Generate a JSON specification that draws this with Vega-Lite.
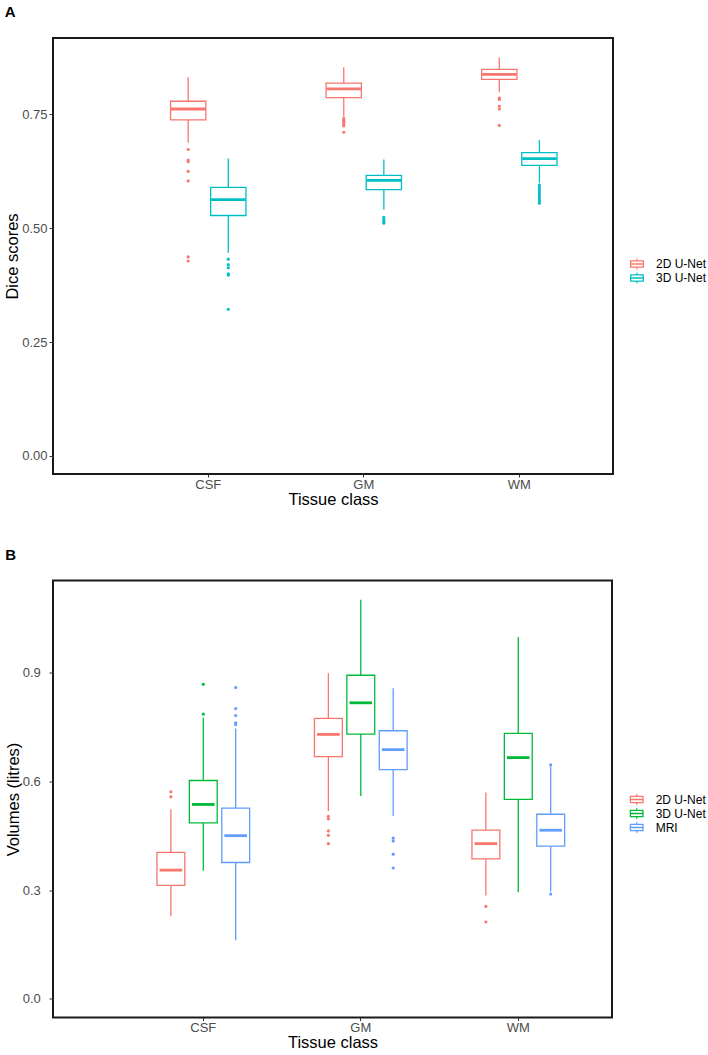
{
  "$schema": "https://vega.github.io/schema/vega-lite/v6.json",
  "padding": {"left": 3, "top": 4, "right": 0, "bottom": 0},
  "spacing": 37.5,
  "resolve": {"scale": {"color": "independent", "x": "independent", "xOffset": "independent", "y": "independent"}, "legend": {"color": "independent"}},
  "config": {
    "font": "Liberation Sans",
    "view": {"stroke": "#1a1a1a", "strokeWidth": 2},
    "axis": {"grid": false, "domain": false, "tickColor": "#333333", "tickSize": 4, "tickWidth": 1, "labelColor": "#4D4D4D", "labelFontSize": 13, "labelPadding": 2, "titleFontSize": 16.5, "titleFontWeight": "normal", "titleColor": "black"},
    "axisX": {"tickSize": 3, "labelPadding": 1, "titlePadding": 0},
    "axisY": {"titlePadding": 1},
    "legend": {"labelFontSize": 12, "labelColor": "black", "padding": 0, "labelOffset": 13, "symbolSize": 36, "symbolStrokeWidth": 1.3, "symbolFillColor": "transparent", "symbolType": "M-2.1,-1.05H2.1V1.05H-2.1ZM-2.1,0H2.1M0,-1.05V-1.75M0,1.05V1.75"},
    "title": {"anchor": "start", "frame": "bounds", "fontSize": 15, "fontWeight": "bold", "color": "black"}
  },
  "datasets": {
    "statsA": [
      {"tissue": "CSF", "model": "2D U-Net", "lo": 0.688, "q1": 0.738, "med": 0.762, "q3": 0.779, "hi": 0.832},
      {"tissue": "CSF", "model": "3D U-Net", "lo": 0.446, "q1": 0.528, "med": 0.563, "q3": 0.590, "hi": 0.653},
      {"tissue": "GM", "model": "2D U-Net", "lo": 0.745, "q1": 0.787, "med": 0.806, "q3": 0.819, "hi": 0.854},
      {"tissue": "GM", "model": "3D U-Net", "lo": 0.541, "q1": 0.585, "med": 0.605, "q3": 0.616, "hi": 0.651},
      {"tissue": "WM", "model": "2D U-Net", "lo": 0.799, "q1": 0.827, "med": 0.838, "q3": 0.849, "hi": 0.875},
      {"tissue": "WM", "model": "3D U-Net", "lo": 0.600, "q1": 0.638, "med": 0.653, "q3": 0.666, "hi": 0.694}
    ],
    "outA": [
      {"tissue": "CSF", "model": "2D U-Net", "value": 0.673},
      {"tissue": "CSF", "model": "2D U-Net", "value": 0.650},
      {"tissue": "CSF", "model": "2D U-Net", "value": 0.646},
      {"tissue": "CSF", "model": "2D U-Net", "value": 0.625},
      {"tissue": "CSF", "model": "2D U-Net", "value": 0.604},
      {"tissue": "CSF", "model": "2D U-Net", "value": 0.437},
      {"tissue": "CSF", "model": "2D U-Net", "value": 0.428},
      {"tissue": "CSF", "model": "3D U-Net", "value": 0.432},
      {"tissue": "CSF", "model": "3D U-Net", "value": 0.420},
      {"tissue": "CSF", "model": "3D U-Net", "value": 0.413},
      {"tissue": "CSF", "model": "3D U-Net", "value": 0.400},
      {"tissue": "CSF", "model": "3D U-Net", "value": 0.397},
      {"tissue": "CSF", "model": "3D U-Net", "value": 0.322},
      {"tissue": "GM", "model": "2D U-Net", "value": 0.741},
      {"tissue": "GM", "model": "2D U-Net", "value": 0.737},
      {"tissue": "GM", "model": "2D U-Net", "value": 0.733},
      {"tissue": "GM", "model": "2D U-Net", "value": 0.729},
      {"tissue": "GM", "model": "2D U-Net", "value": 0.725},
      {"tissue": "GM", "model": "2D U-Net", "value": 0.711},
      {"tissue": "GM", "model": "3D U-Net", "value": 0.524},
      {"tissue": "GM", "model": "3D U-Net", "value": 0.519},
      {"tissue": "GM", "model": "3D U-Net", "value": 0.515},
      {"tissue": "GM", "model": "3D U-Net", "value": 0.511},
      {"tissue": "WM", "model": "2D U-Net", "value": 0.786},
      {"tissue": "WM", "model": "2D U-Net", "value": 0.783},
      {"tissue": "WM", "model": "2D U-Net", "value": 0.768},
      {"tissue": "WM", "model": "2D U-Net", "value": 0.762},
      {"tissue": "WM", "model": "2D U-Net", "value": 0.726},
      {"tissue": "WM", "model": "3D U-Net", "value": 0.595},
      {"tissue": "WM", "model": "3D U-Net", "value": 0.590},
      {"tissue": "WM", "model": "3D U-Net", "value": 0.585},
      {"tissue": "WM", "model": "3D U-Net", "value": 0.580},
      {"tissue": "WM", "model": "3D U-Net", "value": 0.575},
      {"tissue": "WM", "model": "3D U-Net", "value": 0.570},
      {"tissue": "WM", "model": "3D U-Net", "value": 0.565},
      {"tissue": "WM", "model": "3D U-Net", "value": 0.560},
      {"tissue": "WM", "model": "3D U-Net", "value": 0.555}
    ],
    "statsB": [
      {"tissue": "CSF", "model": "2D U-Net", "lo": 0.228, "q1": 0.313, "med": 0.355, "q3": 0.404, "hi": 0.523},
      {"tissue": "CSF", "model": "3D U-Net", "lo": 0.353, "q1": 0.485, "med": 0.536, "q3": 0.602, "hi": 0.775},
      {"tissue": "CSF", "model": "MRI", "lo": 0.162, "q1": 0.376, "med": 0.450, "q3": 0.526, "hi": 0.745},
      {"tissue": "GM", "model": "2D U-Net", "lo": 0.518, "q1": 0.668, "med": 0.729, "q3": 0.773, "hi": 0.898},
      {"tissue": "GM", "model": "3D U-Net", "lo": 0.559, "q1": 0.730, "med": 0.816, "q3": 0.892, "hi": 1.100},
      {"tissue": "GM", "model": "MRI", "lo": 0.504, "q1": 0.632, "med": 0.687, "q3": 0.739, "hi": 0.856},
      {"tissue": "WM", "model": "2D U-Net", "lo": 0.285, "q1": 0.386, "med": 0.428, "q3": 0.465, "hi": 0.569},
      {"tissue": "WM", "model": "3D U-Net", "lo": 0.294, "q1": 0.550, "med": 0.665, "q3": 0.732, "hi": 0.997},
      {"tissue": "WM", "model": "MRI", "lo": 0.296, "q1": 0.421, "med": 0.465, "q3": 0.509, "hi": 0.640}
    ],
    "outB": [
      {"tissue": "CSF", "model": "2D U-Net", "value": 0.571},
      {"tissue": "CSF", "model": "2D U-Net", "value": 0.557},
      {"tissue": "CSF", "model": "3D U-Net", "value": 0.785},
      {"tissue": "CSF", "model": "3D U-Net", "value": 0.867},
      {"tissue": "CSF", "model": "MRI", "value": 0.858},
      {"tissue": "CSF", "model": "MRI", "value": 0.800},
      {"tissue": "CSF", "model": "MRI", "value": 0.781},
      {"tissue": "CSF", "model": "MRI", "value": 0.761},
      {"tissue": "CSF", "model": "MRI", "value": 0.756},
      {"tissue": "GM", "model": "2D U-Net", "value": 0.503},
      {"tissue": "GM", "model": "2D U-Net", "value": 0.496},
      {"tissue": "GM", "model": "2D U-Net", "value": 0.463},
      {"tissue": "GM", "model": "2D U-Net", "value": 0.451},
      {"tissue": "GM", "model": "2D U-Net", "value": 0.428},
      {"tissue": "GM", "model": "MRI", "value": 0.443},
      {"tissue": "GM", "model": "MRI", "value": 0.435},
      {"tissue": "GM", "model": "MRI", "value": 0.399},
      {"tissue": "GM", "model": "MRI", "value": 0.361},
      {"tissue": "WM", "model": "2D U-Net", "value": 0.255},
      {"tissue": "WM", "model": "2D U-Net", "value": 0.212},
      {"tissue": "WM", "model": "MRI", "value": 0.645},
      {"tissue": "WM", "model": "MRI", "value": 0.289}
    ]
  },
  "vconcat": [
    {
      "width": 560,
      "height": 436,
      "title": {"text": "A", "offset": 18},
      "encoding": {
        "x": {"field": "tissue", "type": "nominal", "title": "Tissue class", "scale": {"type": "band", "domain": ["CSF", "GM", "WM"], "paddingInner": 0, "paddingOuter": 0.3, "align": 0.83}, "axis": {"labelAngle": 0}},
        "xOffset": {"field": "model", "type": "nominal", "scale": {"domain": ["2D U-Net", "3D U-Net"], "paddingInner": 0.12, "paddingOuter": 1.05}},
        "color": {"field": "model", "type": "nominal", "title": null, "scale": {"domain": ["2D U-Net", "3D U-Net"], "range": ["#F8766D", "#00BFC4"]}, "legend": {"orient": "none", "legendX": 578, "legendY": 220, "rowPadding": -9, "encode": {"symbols": {"update": {"fillOpacity": {"value": 0}, "strokeOpacity": {"value": 1}}}}}}
      },
      "layer": [
        {
          "data": {"name": "statsA"},
          "mark": {"type": "rule", "strokeWidth": 1.3},
          "encoding": {
            "y": {"field": "lo", "type": "quantitative", "title": "Dice scores", "scale": {"domain": [-0.04, 0.918], "nice": false, "zero": false}, "axis": {"values": [0, 0.25, 0.5, 0.75], "format": ".2f"}},
            "y2": {"field": "q1"}
          }
        },
        {
          "data": {"name": "statsA"},
          "mark": {"type": "rule", "strokeWidth": 1.3},
          "encoding": {
            "y": {"field": "q3", "type": "quantitative", "title": "Dice scores"},
            "y2": {"field": "hi"}
          }
        },
        {
          "data": {"name": "statsA"},
          "mark": {"type": "bar", "filled": false, "strokeWidth": 1.3},
          "encoding": {
            "y": {"field": "q1", "type": "quantitative", "title": "Dice scores"},
            "y2": {"field": "q3"}
          }
        },
        {
          "data": {"name": "statsA"},
          "mark": {"type": "tick", "size": 34.4, "thickness": 2.8, "opacity": 1},
          "encoding": {
            "y": {"field": "med", "type": "quantitative", "title": "Dice scores"}
          }
        },
        {
          "data": {"name": "outA"},
          "mark": {"type": "circle", "size": 10, "opacity": 1},
          "encoding": {
            "y": {"field": "value", "type": "quantitative", "title": "Dice scores"}
          }
        }
      ]
    },
    {
      "width": 559,
      "height": 437,
      "title": {"text": "B", "offset": 18},
      "encoding": {
        "x": {"field": "tissue", "type": "nominal", "title": "Tissue class", "scale": {"type": "band", "domain": ["CSF", "GM", "WM"], "paddingInner": 0, "paddingOuter": 0.2746, "align": 0.827}, "axis": {"labelAngle": 0}},
        "xOffset": {"field": "model", "type": "nominal", "scale": {"domain": ["2D U-Net", "3D U-Net", "MRI"], "paddingInner": 0.14, "paddingOuter": 1.57}},
        "color": {"field": "model", "type": "nominal", "title": null, "scale": {"domain": ["2D U-Net", "3D U-Net", "MRI"], "range": ["#F8766D", "#00BA38", "#619CFF"]}, "legend": {"orient": "none", "legendX": 577.7, "legendY": 213, "rowPadding": -3, "encode": {"symbols": {"update": {"fillOpacity": {"value": 0}, "strokeOpacity": {"value": 1}}}}}}
      },
      "layer": [
        {
          "data": {"name": "statsB"},
          "mark": {"type": "rule", "strokeWidth": 1.3},
          "encoding": {
            "y": {"field": "lo", "type": "quantitative", "title": "Volumes (litres)", "scale": {"domain": [-0.051, 1.153], "nice": false, "zero": false}, "axis": {"values": [0, 0.3, 0.6, 0.9], "format": ".1f", "labelPadding": 8.7}},
            "y2": {"field": "q1"}
          }
        },
        {
          "data": {"name": "statsB"},
          "mark": {"type": "rule", "strokeWidth": 1.3},
          "encoding": {
            "y": {"field": "q3", "type": "quantitative", "title": "Volumes (litres)"},
            "y2": {"field": "hi"}
          }
        },
        {
          "data": {"name": "statsB"},
          "mark": {"type": "bar", "filled": false, "strokeWidth": 1.3},
          "encoding": {
            "y": {"field": "q1", "type": "quantitative", "title": "Volumes (litres)"},
            "y2": {"field": "q3"}
          }
        },
        {
          "data": {"name": "statsB"},
          "mark": {"type": "tick", "size": 22.6, "thickness": 2.8, "opacity": 1},
          "encoding": {
            "y": {"field": "med", "type": "quantitative", "title": "Volumes (litres)"}
          }
        },
        {
          "data": {"name": "outB"},
          "mark": {"type": "circle", "size": 10, "opacity": 1},
          "encoding": {
            "y": {"field": "value", "type": "quantitative", "title": "Volumes (litres)"}
          }
        }
      ]
    }
  ]
}
